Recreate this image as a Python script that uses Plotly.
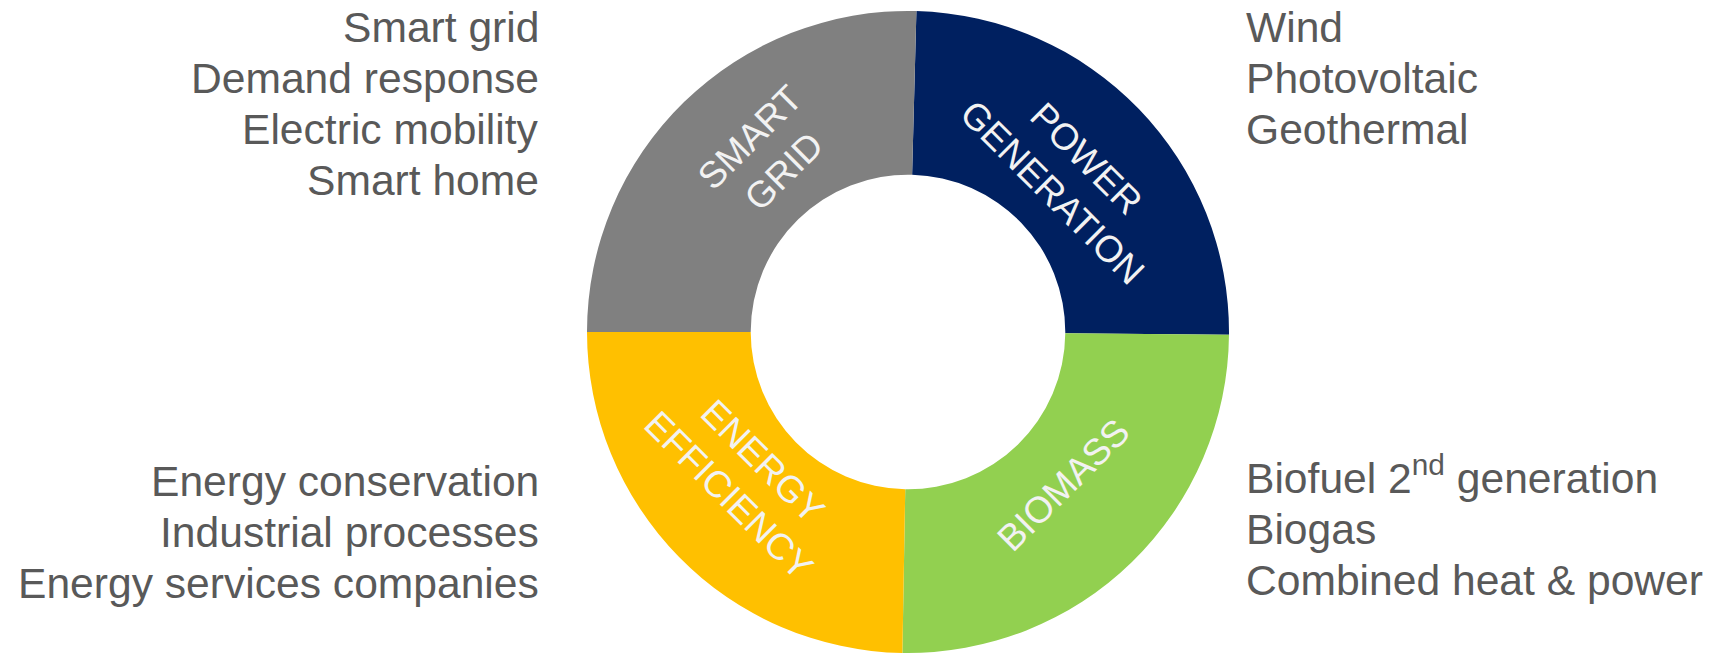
import plotly.graph_objects as go

W, H = 1713, 654

# Data
segments = ["POWER GENERATION", "BIOMASS", "ENERGY EFFICIENCY", "SMART GRID"]
segment_labels = ["POWER<br>GENERATION", "BIOMASS", "ENERGY<br>EFFICIENCY", "SMART<br>GRID"]
segment_values = [89, 90.5, 89, 91.5]
segment_colors = ["#002060", "#92D050", "#FFC000", "#808080"]

smart_grid_items = ["Smart grid", "Demand response", "Electric mobility", "Smart home"]
power_items = ["Wind", "Photovoltaic", "Geothermal"]
efficiency_items = ["Energy conservation", "Industrial processes", "Energy services companies"]
biomass_items = ["Biofuel 2<sup>nd</sup> generation", "Biogas", "Combined heat & power"]

FONT = "Liberation Sans, Arial, sans-serif"
OUT_SIZE = 42.6
IN_SIZE = 37


def px(x):
    return x / W


def py(y):
    return 1 - y / H


fig = go.Figure()
cx, cy, r = 908, 332, 321
fig.add_trace(go.Pie(
    labels=segments,
    values=segment_values,
    sort=False,
    direction="clockwise",
    rotation=1.5,
    hole=0.49,
    marker=dict(colors=segment_colors, line=dict(width=0)),
    textinfo="none",
    hoverinfo="label",
    showlegend=False,
    domain=dict(x=[px(cx - r), px(cx + r)], y=[py(cy + r), py(cy - r)]),
))

annotations = []
# inner labels (centre position in px, angle)
inner_pos = [(1069, 176, 45), (1063, 485, -45), (746, 478, 45), (767, 155, -45)]
for txt, (x, y, ang) in zip(segment_labels, inner_pos):
    annotations.append(dict(
        text=txt, x=px(x), y=py(y), xref="paper", yref="paper",
        xanchor="center", yanchor="middle", showarrow=False, textangle=ang,
        align="center", font=dict(family=FONT, size=IN_SIZE, color="#F2F2F2"),
    ))

# outer lists: (items, x, first baseline, side)
LINE = 51
blocks = [
    (smart_grid_items, 541, 42, "right"),
    (power_items, 1244, 42, "left"),
    (efficiency_items, 541, 496, "right"),
    (biomass_items, 1244, 493, "left"),
]
desc = 0.212 * OUT_SIZE + 2
for items, x, b0, side in blocks:
    for i, item in enumerate(items):
        base = b0 + i * LINE
        annotations.append(dict(
            text=item, x=px(x), y=py(base + desc), xref="paper", yref="paper",
            xanchor=side, yanchor="bottom", align=side, showarrow=False,
            font=dict(family=FONT, size=OUT_SIZE, color="#595959"),
        ))

fig.update_layout(
    width=W, height=H,
    margin=dict(l=0, r=0, t=0, b=0),
    paper_bgcolor="white", plot_bgcolor="white",
    annotations=annotations,
)

fig.write_html(
    "out.html",
    config={"displayModeBar": False},
    post_script="document.body.style.margin='0';document.body.style.overflow='hidden';",
)
